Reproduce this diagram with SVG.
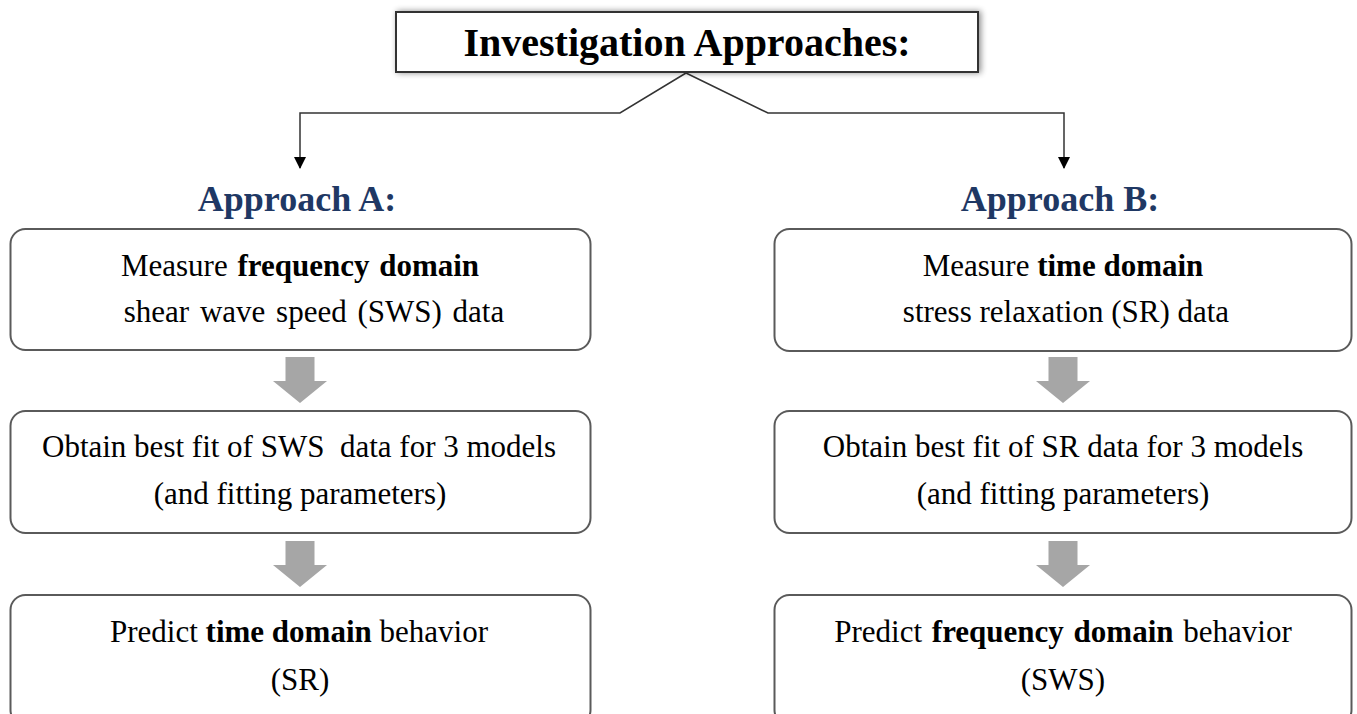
<svg xmlns="http://www.w3.org/2000/svg" width="1357" height="714" viewBox="0 0 1357 714">
  <defs>
    <filter id="shadow" x="-10%" y="-30%" width="120%" height="160%">
      <feGaussianBlur in="SourceAlpha" stdDeviation="3"/>
      <feOffset dx="2" dy="0" result="b"/>
      <feComponentTransfer><feFuncA type="linear" slope="0.45"/></feComponentTransfer>
      <feMerge><feMergeNode/><feMergeNode in="SourceGraphic"/></feMerge>
    </filter>
    <marker id="arrow" markerWidth="12" markerHeight="12" refX="11" refY="6" orient="auto" markerUnits="userSpaceOnUse">
      <path d="M0,0 L12,6 L0,12 Z" fill="#000"/>
    </marker>
    <path id="blockArrow" d="M-14.5,0 H14.5 V24 H27 L0,46 L-27,24 H-14.5 Z"/>
  </defs>
  <style>
    text { font-family: "Liberation Serif", "Times New Roman", serif; fill: #000; }
    .title { font-size: 40px; font-weight: bold; }
    .head { font-size: 36px; font-weight: bold; fill: #1F3864; }
    .body { font-size: 31px; }
    .b { font-weight: bold; }
    .box { fill: #fff; stroke: #5a5a5a; stroke-width: 2; }
    .conn { fill: none; stroke: #333; stroke-width: 1.5; }
    .garrow { fill: #a6a6a6; }
  </style>
  <rect width="1357" height="714" fill="#fff"/>

  <g id="connectors">
    <path class="conn" d="M686,73 L620,113 L300,113 L300,168" marker-end="url(#arrow)"/>
    <path class="conn" d="M686,73 L768,113 L1064,113 L1064,168" marker-end="url(#arrow)"/>
    <use href="#blockArrow" class="garrow" x="300" y="357"/>
    <use href="#blockArrow" class="garrow" x="300" y="541"/>
    <use href="#blockArrow" class="garrow" x="1063" y="357"/>
    <use href="#blockArrow" class="garrow" x="1063" y="541"/>
  </g>

  <g id="title">
    <rect x="396" y="12" width="582" height="60" fill="#fff" stroke="#333" stroke-width="2" filter="url(#shadow)"/>
    <text class="title" x="687" y="56" text-anchor="middle">Investigation Approaches:</text>
  </g>

  <g id="approachA-label">
    <text class="head" x="297" y="211" text-anchor="middle">Approach A:</text>
  </g>
  <g id="approachB-label">
    <text class="head" x="1060" y="211" text-anchor="middle">Approach B:</text>
  </g>

  <g id="A1">
    <rect class="box" x="10.5" y="229" width="580" height="121" rx="15"/>
    <text class="body" x="300" y="276" text-anchor="middle" word-spacing="2">Measure <tspan class="b">frequency domain</tspan></text>
    <text class="body" x="314" y="322" text-anchor="middle" word-spacing="3">shear wave speed (SWS) data</text>
  </g>
  <g id="A2">
    <rect class="box" x="10.5" y="411" width="580" height="122" rx="15"/>
    <text class="body" x="299" y="457" text-anchor="middle" xml:space="preserve">Obtain best fit of SWS  data for 3 models</text>
    <text class="body" x="300" y="504" text-anchor="middle">(and fitting parameters)</text>
  </g>
  <g id="A3">
    <rect class="box" x="10.5" y="595" width="580" height="130" rx="15"/>
    <text class="body" x="299" y="642" text-anchor="middle" font-size="30">Predict <tspan class="b">time domain</tspan> behavior</text>
    <text class="body" x="300" y="690" text-anchor="middle" font-size="30">(SR)</text>
  </g>

  <g id="B1">
    <rect class="box" x="774.5" y="229" width="577" height="122" rx="15"/>
    <text class="body" x="1063" y="276" text-anchor="middle">Measure <tspan class="b">time domain</tspan></text>
    <text class="body" x="1066" y="322" text-anchor="middle">stress relaxation (SR) data</text>
  </g>
  <g id="B2">
    <rect class="box" x="774.5" y="411" width="577" height="122" rx="15"/>
    <text class="body" x="1063" y="457" text-anchor="middle">Obtain best fit of SR data for 3 models</text>
    <text class="body" x="1063" y="504" text-anchor="middle">(and fitting parameters)</text>
  </g>
  <g id="B3">
    <rect class="box" x="774.5" y="595" width="577" height="130" rx="15"/>
    <text class="body" x="1063" y="642" text-anchor="middle" word-spacing="2" font-size="31.5">Predict <tspan class="b">frequency domain</tspan> behavior</text>
    <text class="body" x="1063" y="690" text-anchor="middle" font-size="31.5">(SWS)</text>
  </g>
</svg>
